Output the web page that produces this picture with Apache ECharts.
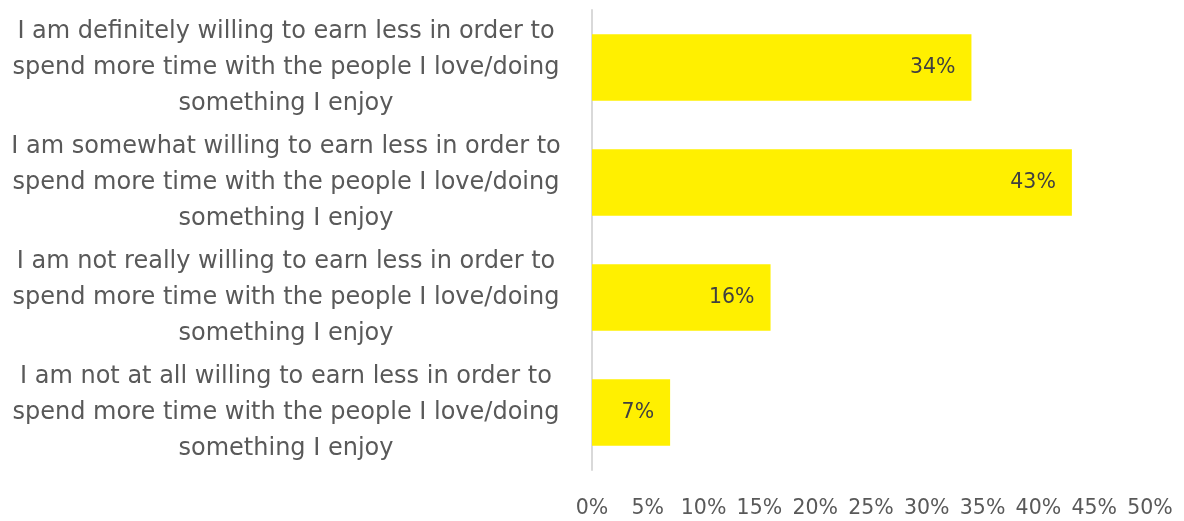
<!DOCTYPE html>
<html>
<head>
<meta charset="utf-8">
<script src="https://cdn.jsdelivr.net/npm/echarts@6/dist/echarts.min.js"></script>
<style>
  html, body { margin: 0; padding: 0; background: #ffffff; }
  #chart { width: 1184px; height: 521px; }
</style>
</head>
<body>
<div id="chart"></div>
<script>
// Survey answers, top to bottom
const categories = [
  'I am definitely willing to earn less in order to\nspend more time with the people I love/doing\nsomething I enjoy',
  'I am somewhat willing to earn less in order to\nspend more time with the people I love/doing\nsomething I enjoy',
  'I am not really willing to earn less in order to\nspend more time with the people I love/doing\nsomething I enjoy',
  'I am not at all willing to earn less in order to\nspend more time with the people I love/doing\nsomething I enjoy'
];
// Share of respondents, percent
const values = [34, 43, 16, 7];
// Value axis range and step
const axisMin = 0;
const axisMax = 50;
const axisStep = 5;

const fontFamily = '"DejaVu Sans", "Noto Sans", sans-serif';
const chart = echarts.init(document.getElementById('chart'));
chart.setOption({
  animation: false,
  grid: { left: 592, right: 34, top: 10, bottom: 51, containLabel: false },
  xAxis: {
    type: 'value',
    min: axisMin,
    max: axisMax,
    interval: axisStep,
    axisLine: { show: false },
    axisTick: { show: false },
    splitLine: { show: false },
    axisLabel: {
      formatter: '{value}%',
      color: '#595959',
      fontFamily: fontFamily,
      fontSize: 20.5,
      margin: 28
    }
  },
  yAxis: {
    type: 'category',
    inverse: true,
    data: categories,
    axisLine: { show: true, lineStyle: { color: '#d9d9d9', width: 2 } },
    axisTick: { show: false },
    axisLabel: {
      color: '#595959',
      fontFamily: fontFamily,
      fontSize: 24,
      lineHeight: 36,
      align: 'center',
      margin: 306
    }
  },
  series: [{
    type: 'bar',
    data: values,
    barWidth: '58%',
    itemStyle: { color: '#fff000' },
    label: {
      show: true,
      position: 'insideRight',
      distance: 16,
      formatter: '{c}%',
      color: '#404040',
      fontFamily: fontFamily,
      fontSize: 20.5
    }
  }]
});
</script>
</body>
</html>
